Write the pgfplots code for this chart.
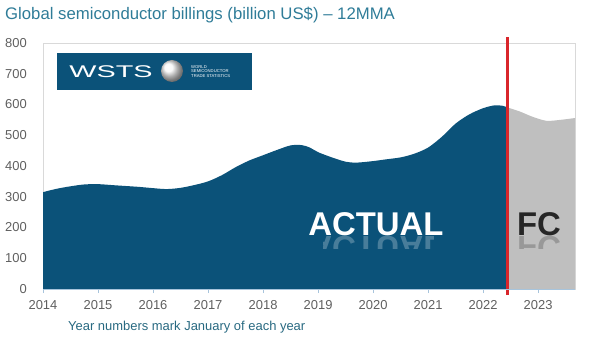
\documentclass[border=0pt]{standalone}
\usepackage{fontspec}
\setmainfont{Liberation Sans}
\usepackage{pgfplots}
\pgfplotsset{compat=1.18}
\usetikzlibrary{shadings}
\definecolor{wblue}{HTML}{0B5279}
\definecolor{fcgray}{HTML}{BFBFBF}
\definecolor{ttl}{HTML}{2F7C98}
\definecolor{tickc}{HTML}{5F5F5F}
\definecolor{redl}{HTML}{D9262B}
\definecolor{axl}{HTML}{A7C4DC}
\begin{document}
\begin{tikzpicture}
\path[use as bounding box] (-43bp,-62bp) rectangle (557bp,289bp);
\begin{axis}[
  at={(0,0)}, anchor=south west, scale only axis,
  width=532bp, height=246bp,
  xmin=2014, xmax=2023.67, ymin=0, ymax=800,
  xtick={2014,2015,2016,2017,2018,2019,2020,2021,2022,2023},
  xticklabels={2014,2015,2016,2017,2018,2019,2020,2021,2022,2023},
  ytick={0,100,200,300,400,500,600,700,800},
  /pgf/number format/assume math mode=true,
  xticklabel style={font=\fontsize{13}{13}\selectfont, text=tickc, inner sep=0pt, anchor=north, yshift=-7bp},
  yticklabel style={font=\fontsize{13}{13}\selectfont, text=tickc, inner sep=0pt, anchor=east, xshift=-12bp},
  axis line style={draw=gray!30, line width=0.8bp},
  xtick pos=bottom, ytick pos=left,
  tick align=outside,
  x tick style={draw=axl, line width=0.8bp},
  major tick length=4bp,
  y tick style={draw=none},
  clip=false,
]
\addplot[fill=wblue, draw=none, smooth, tension=0.5] coordinates {
(2014.0,315) (2014.25,326) (2014.5,334) (2014.75,340) (2015.0,341)
(2015.25,338) (2015.5,335) (2015.75,332) (2016.0,328) (2016.25,325)
(2016.5,329) (2016.75,338) (2017.0,350) (2017.25,370) (2017.5,396)
(2017.75,418) (2018.0,435) (2018.25,452) (2018.5,467) (2018.7,468)
(2018.85,460) (2019.0,445) (2019.25,428) (2019.5,414) (2019.7,411)
(2020.0,416) (2020.25,422) (2020.5,428) (2020.75,440) (2021.0,460)
(2021.25,495) (2021.5,538) (2021.75,568) (2022.0,588) (2022.2,597)
(2022.35,596) (2022.45,590)
} \closedcycle;
\addplot[fill=fcgray, draw=none, smooth, tension=0.5] coordinates {
(2022.45,590) (2022.67,577) (2022.9,560) (2023.15,547) (2023.4,550) (2023.67,556)
} \closedcycle;
\draw[redl, line width=2.8bp] (axis cs:2022.45,-20) -- (axis cs:2022.45,820);
\end{axis}
\draw[axl, line width=0.8bp] (0,0) -- (532bp,0);
% title and subtitle
\node[anchor=west, inner sep=0pt, text=ttl, font=\fontsize{16.8}{16.8}\selectfont] at (-38bp,274bp) {Global semiconductor billings (billion US\$) -- 12MMA};
\node[anchor=west, inner sep=0pt, text=ttl!85!black, font=\fontsize{13}{13}\selectfont] at (25bp,-38bp) {Year numbers mark January of each year};
% logo
\fill[wblue] (14bp,199bp) rectangle (209bp,236bp);
\node[text=white, inner sep=0pt, font=\fontsize{17}{17}\selectfont, xscale=1.7] at (68bp,217.5bp) {WSTS};
\shade[ball color=gray!6] (129bp,218bp) circle (11bp);
\node[anchor=west, text=white, inner sep=0pt, align=left, font=\fontsize{4.2}{4.6}\selectfont] at (148bp,217.5bp) {WORLD\\SEMICONDUCTOR\\TRADE STATISTICS};
% ACTUAL / FC
\node[anchor=base, text=white, inner sep=0pt, font=\fontsize{33}{33}\selectfont\bfseries] at (333bp,53bp) {ACTUAL};
\node[anchor=base, text=black!85, inner sep=0pt, font=\fontsize{33}{33}\selectfont\bfseries] at (496bp,53bp) {FC};
\begin{scope}
\clip (280bp,53bp) rectangle (390bp,40bp);
\node[anchor=base, yscale=-1, text=white, opacity=0.25, inner sep=0pt, font=\fontsize{33}{33}\selectfont\bfseries] at (333bp,52bp) {ACTUAL};
\end{scope}
\begin{scope}
\clip (470bp,53bp) rectangle (525bp,40bp);
\node[anchor=base, yscale=-1, text=black, opacity=0.2, inner sep=0pt, font=\fontsize{33}{33}\selectfont\bfseries] at (496bp,52bp) {FC};
\end{scope}
\end{tikzpicture}
\end{document}
